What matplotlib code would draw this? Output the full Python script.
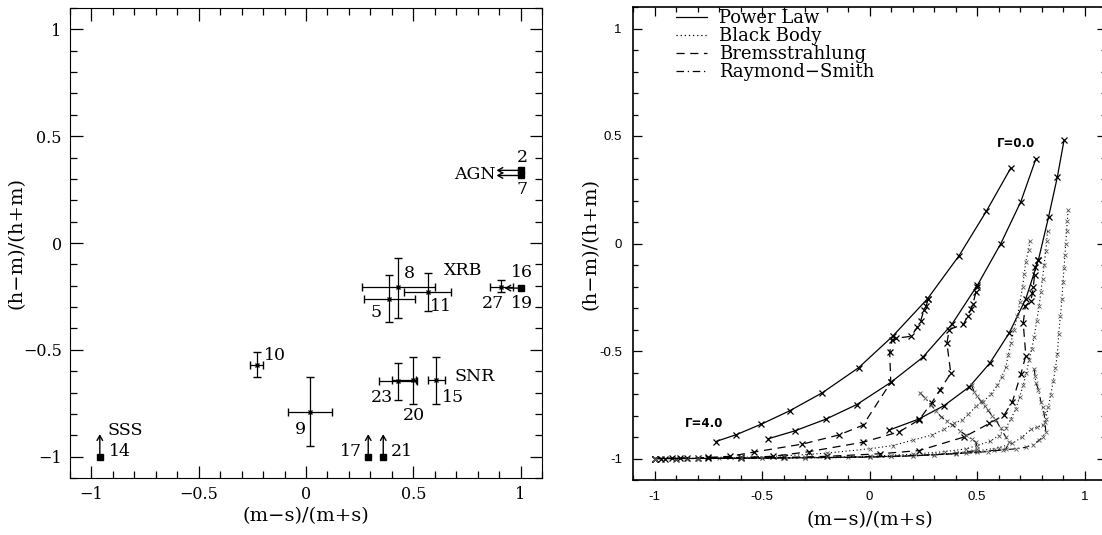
import matplotlib
matplotlib.use('Agg')
import matplotlib.pyplot as plt
from matplotlib.lines import Line2D
from matplotlib.ticker import MultipleLocator

plt.rcParams['font.family'] = ['DejaVu Serif']

# ---------------- left panel: observed sources ----------------
# sources with error bars
eb_x = [0.429, 0.388, 0.569, 0.910, -0.229, 0.019, 0.429, 0.499, 0.608]
eb_xlo = [0.259, 0.270, 0.456, 0.856, -0.260, -0.082, 0.341, 0.399, 0.569]
eb_xhi = [0.600, 0.507, 0.678, 0.964, -0.201, 0.119, 0.518, 0.515, 0.647]
eb_y = [-0.208, -0.260, -0.229, -0.205, -0.570, -0.792, -0.648, -0.641, -0.641]
eb_ylo = [-0.351, -0.371, -0.319, -0.229, -0.629, -0.949, -0.737, -0.752, -0.752]
eb_yhi = [-0.070, -0.149, -0.140, -0.171, -0.510, -0.629, -0.562, -0.533, -0.533]

# limits: square + arrow (2, 7, 16/19, 14, 17, 21)
lim_x = [1.0, 1.0, 1.0, -0.961, 0.290, 0.360]
lim_y = [0.340, 0.316, -0.211, -1.0, -1.0, -1.0]
lim_tip_x = [0.888, 0.888, 0.925, -0.961, 0.290, 0.360]
lim_tip_y = [0.340, 0.316, -0.211, -0.895, -0.895, -0.895]

# labels: text, centre x, centre y
lab_txt = ['2', '7', 'AGN', '8', 'XRB', '16', '27', '19', '5', '11', '10',
           'SNR', '23', '15', '20', '9', 'SSS', '14', '17', '21']
lab_x = [1.007, 1.007, 0.786, 0.484, 0.732, 1.005, 0.872, 1.008, 0.326, 0.631,
         -0.144, 0.786, 0.352, 0.685, 0.502, -0.025, -0.842, -0.865, 0.208, 0.445]
lab_y = [0.40, 0.252, 0.319, -0.141, -0.129, -0.137, -0.284, -0.284, -0.327, -0.295,
         -0.525, -0.625, -0.724, -0.724, -0.806, -0.875, -0.879, -0.978, -0.978, -0.978]

# ---------------- right panel: model tracks ----------------
# power law, three absorbing columns, Gamma = 4.0 ... 0.0
pl1_x = [-0.715, -0.619, -0.505, -0.371, -0.219, -0.051, 0.107, 0.270, 0.417, 0.544, 0.657]
pl1_y = [-0.921, -0.889, -0.841, -0.778, -0.694, -0.578, -0.432, -0.257, -0.056, 0.151, 0.351]
pl2_x = [-0.470, -0.346, -0.203, -0.059, 0.099, 0.247, 0.383, 0.502, 0.611, 0.704, 0.774]
pl2_y = [-0.908, -0.871, -0.817, -0.749, -0.646, -0.530, -0.376, -0.194, 0.0, 0.195, 0.394]
pl3_x = [0.091, 0.228, 0.347, 0.464, 0.560, 0.650, 0.727, 0.786, 0.833, 0.874, 0.905]
pl3_y = [-0.868, -0.817, -0.754, -0.667, -0.556, -0.416, -0.257, -0.075, 0.124, 0.311, 0.481]

# bremsstrahlung
br1_x = [-1.0, -0.97, -0.92, -0.85, -0.75, -0.65, -0.537, -0.312, -0.141, -0.030, 0.099,
         0.094, 0.105, 0.125, 0.192, 0.223, 0.238, 0.253, 0.264, 0.273]
br1_y = [-1.0, -1.0, -0.999, -0.998, -0.995, -0.99, -0.970, -0.933, -0.890, -0.845, -0.646,
         -0.506, -0.450, -0.440, -0.432, -0.390, -0.360, -0.310, -0.290, -0.256]
br2_x = [-1.0, -0.95, -0.88, -0.8, -0.6, -0.45, -0.281, -0.029, 0.138, 0.231, 0.290, 0.329,
         0.378, 0.360, 0.371, 0.437, 0.457, 0.473, 0.481, 0.495, 0.502]
br2_y = [-1.0, -1.0, -0.999, -0.998, -0.995, -0.99, -0.968, -0.924, -0.876, -0.820, -0.740,
         -0.68, -0.603, -0.464, -0.400, -0.376, -0.337, -0.305, -0.281, -0.226, -0.202]
br3_x = [-1.0, -0.9, -0.75, -0.6, -0.4, -0.2, 0.05, 0.231, 0.44, 0.557, 0.626, 0.665, 0.704,
         0.727, 0.715, 0.725, 0.750, 0.758, 0.762, 0.768, 0.772, 0.786]
br3_y = [-1.0, -1.0, -0.999, -0.998, -0.995, -0.99, -0.978, -0.963, -0.90, -0.837, -0.798,
         -0.735, -0.608, -0.521, -0.370, -0.29, -0.267, -0.23, -0.20, -0.146, -0.11, -0.076]

# black body
bb1_x = [0.746, 0.740, 0.727, 0.720, 0.712, 0.700, 0.688, 0.672, 0.657, 0.645, 0.634, 0.615,
         0.595, 0.565, 0.530, 0.495, 0.460, 0.430, 0.394, 0.345, 0.293, 0.20, 0.107, 0.0,
         -0.2, -0.4, -0.6, -0.8, -0.9, -1.0]
bb1_y = [0.011, -0.03, -0.084, -0.14, -0.203, -0.27, -0.338, -0.40, -0.465, -0.52, -0.576, -0.62,
         -0.66, -0.70, -0.735, -0.757, -0.795, -0.82, -0.837, -0.865, -0.89, -0.915, -0.94, -0.955,
         -0.975, -0.988, -0.995, -0.999, -1.0, -1.0]
bb2_x = [0.828, 0.824, 0.820, 0.812, 0.805, 0.797, 0.789, 0.778, 0.766, 0.755, 0.743, 0.730,
         0.715, 0.698, 0.680, 0.658, 0.633, 0.60, 0.56, 0.50, 0.45, 0.35, 0.2, 0.0, -0.3, -0.6,
         -0.85, -1.0]
bb2_y = [0.059, 0.01, -0.036, -0.10, -0.163, -0.225, -0.29, -0.36, -0.433, -0.49, -0.54, -0.60,
         -0.66, -0.715, -0.77, -0.815, -0.86, -0.895, -0.92, -0.94, -0.955, -0.968, -0.98, -0.99,
         -0.995, -0.998, -1.0, -1.0]
bb3_x = [0.924, 0.920, 0.917, 0.913, 0.909, 0.905, 0.900, 0.895, 0.888, 0.880, 0.874, 0.865,
         0.855, 0.843, 0.832, 0.820, 0.805, 0.78, 0.75, 0.71, 0.665, 0.60, 0.50, 0.40, 0.2, 0.0,
         -0.4, -0.8, -1.0]
bb3_y = [0.154, 0.105, 0.059, 0.0, -0.052, -0.115, -0.179, -0.26, -0.338, -0.42, -0.513, -0.58,
         -0.64, -0.703, -0.76, -0.814, -0.845, -0.855, -0.865, -0.90, -0.93, -0.95, -0.965, -0.975,
         -0.988, -0.994, -0.998, -1.0, -1.0]

# Raymond-Smith
rs1_x = [0.234, 0.260, 0.285, 0.310, 0.332, 0.360, 0.386, 0.420, 0.448, 0.475, 0.495, 0.502,
         0.48, 0.40, 0.3, 0.1, -0.1, -0.3, -0.5, -0.7, -0.9, -1.0]
rs1_y = [-0.694, -0.72, -0.749, -0.78, -0.805, -0.825, -0.844, -0.87, -0.892, -0.91, -0.924,
         -0.956, -0.965, -0.975, -0.982, -0.99, -0.994, -0.996, -0.998, -0.999, -1.0, -1.0]
rs2_x = [0.475, 0.487, 0.500, 0.518, 0.535, 0.549, 0.570, 0.588, 0.610, 0.634, 0.650, 0.634,
         0.58, 0.50, 0.40, 0.2, 0.0, -0.3, -0.6, -0.85, -1.0]
rs2_y = [-0.660, -0.690, -0.71, -0.733, -0.755, -0.773, -0.80, -0.821, -0.86, -0.90, -0.924,
         -0.956, -0.962, -0.97, -0.978, -0.988, -0.994, -0.997, -0.999, -1.0, -1.0]
rs3_x = [0.766, 0.770, 0.774, 0.786, 0.797, 0.805, 0.812, 0.816, 0.820, 0.805, 0.789, 0.760,
         0.727, 0.680, 0.619, 0.55, 0.45, 0.3, 0.1, -0.2, -0.5, -0.8, -1.0]
rs3_y = [-0.583, -0.615, -0.648, -0.68, -0.735, -0.76, -0.79, -0.83, -0.876, -0.90, -0.916,
         -0.935, -0.948, -0.955, -0.96, -0.968, -0.975, -0.983, -0.99, -0.995, -0.998, -1.0, -1.0]

legend_labels = ['Power Law', 'Black Body', 'Bremsstrahlung', 'Raymond\u2212Smith']
tick_vals = [-1, -0.5, 0, 0.5, 1]
left_ticklabels = ['\u22121', '\u22120.5', '0', '0.5', '1']
right_ticklabels = ['-1', '-0.5', '0', '0.5', '1']

DASH = (0, (6.5, 4.5))
DOT = (0, (1, 2.3))
DASHDOT = (0, (6, 3, 1, 3))

fig = plt.figure(figsize=(11.02, 5.35), dpi=100)
ax1 = fig.add_axes([70 / 1102, 57 / 535, 472 / 1102, 470 / 535])
ax2 = fig.add_axes([633 / 1102, 55 / 535, 473 / 1102, 473 / 535])

# ---- left ----
for i in range(len(eb_x)):
    ax1.errorbar(eb_x[i], eb_y[i],
                 xerr=[[eb_x[i] - eb_xlo[i]], [eb_xhi[i] - eb_x[i]]],
                 yerr=[[eb_y[i] - eb_ylo[i]], [eb_yhi[i] - eb_y[i]]],
                 fmt='x', ms=3, mew=1, color='k', ecolor='k', elinewidth=0.9,
                 capsize=2.6, capthick=0.9)
for i in range(len(lim_x)):
    ax1.annotate('', xy=(lim_tip_x[i], lim_tip_y[i]), xytext=(lim_x[i], lim_y[i]),
                 arrowprops=dict(arrowstyle='->,head_length=0.35,head_width=0.2',
                                 color='k', lw=1.0, shrinkA=0, shrinkB=0))
ax1.plot(lim_x, lim_y, 's', color='k', ms=4)
for t, x, y in zip(lab_txt, lab_x, lab_y):
    ax1.text(x, y, t, fontsize=12.5, ha='center', va='center')

ax1.set_xlim(-1.1, 1.1)
ax1.set_ylim(-1.1, 1.1)
ax1.set_xticks(tick_vals)
ax1.set_xticklabels(left_ticklabels)
ax1.set_yticks(tick_vals)
ax1.set_yticklabels(left_ticklabels)
ax1.xaxis.set_minor_locator(MultipleLocator(0.1))
ax1.yaxis.set_minor_locator(MultipleLocator(0.1))
ax1.tick_params(which='both', direction='in', top=True, right=True, width=0.9, labelsize=11.5)
ax1.tick_params(which='major', length=9, pad=6)
ax1.tick_params(which='minor', length=5)
ax1.set_xlabel('(m\u2212s)/(m+s)', fontsize=14)
ax1.set_ylabel('(h\u2212m)/(h+m)', fontsize=14)
ax1.xaxis.set_label_coords(0.5, -0.062)
ax1.yaxis.set_label_coords(-0.094, 0.5)

# ---- right ----
mk_big = dict(marker='x', ms=4, mew=0.9, mec='k')
mk_small = dict(marker='x', ms=3.2, mew=0.6, mec='0.35')
for xs, ys in [(pl1_x, pl1_y), (pl2_x, pl2_y), (pl3_x, pl3_y)]:
    ax2.plot(xs, ys, color='k', lw=0.9, ls='-', **mk_big)
for xs, ys in [(br1_x, br1_y), (br2_x, br2_y), (br3_x, br3_y)]:
    ax2.plot(xs, ys, color='k', lw=0.9, ls=DASH, **mk_big)
for xs, ys in [(bb1_x, bb1_y), (bb2_x, bb2_y), (bb3_x, bb3_y)]:
    ax2.plot(xs, ys, color='k', lw=0.8, ls=DOT, **mk_small)
for xs, ys in [(rs1_x, rs1_y), (rs2_x, rs2_y), (rs3_x, rs3_y)]:
    ax2.plot(xs, ys, color='k', lw=0.8, ls=DASHDOT, **mk_small)

ax2.text(pl3_x[-1] - 0.225, pl3_y[-1] - 0.015, '\u0393=0.0', fontsize=8.5, fontweight='bold',
         family='DejaVu Sans', ha='center', va='center')
ax2.text(pl1_x[0] - 0.055, pl1_y[0] + 0.085, '\u0393=4.0', fontsize=8.5, fontweight='bold',
         family='DejaVu Sans', ha='center', va='center')

handles = [Line2D([], [], color='k', lw=0.9, ls='-'),
           Line2D([], [], color='k', lw=0.9, ls=DOT),
           Line2D([], [], color='k', lw=0.9, ls=DASH),
           Line2D([], [], color='k', lw=0.9, ls=DASHDOT)]
ax2.legend(handles, legend_labels, loc='upper left', bbox_to_anchor=(0.09, 0.995),
           frameon=False, fontsize=13, handlelength=1.75, handletextpad=0.65,
           labelspacing=0.0, borderpad=0, borderaxespad=0)

ax2.set_xlim(-1.1, 1.1)
ax2.set_ylim(-1.1, 1.1)
ax2.set_xticks(tick_vals)
ax2.set_xticklabels(right_ticklabels, family='Liberation Sans')
ax2.set_yticks(tick_vals)
ax2.set_yticklabels(right_ticklabels, family='Liberation Sans')
ax2.xaxis.set_minor_locator(MultipleLocator(0.1))
ax2.yaxis.set_minor_locator(MultipleLocator(0.1))
ax2.tick_params(which='both', direction='in', top=True, right=True, width=0.9, labelsize=9.5)
ax2.tick_params(which='major', length=6.5, pad=8)
ax2.tick_params(which='minor', length=3.6)
for s in ax2.spines.values():
    s.set_linewidth(1.2)
ax2.set_xlabel('(m\u2212s)/(m+s)', fontsize=14)
ax2.set_ylabel('(h\u2212m)/(h+m)', fontsize=14)
ax2.xaxis.set_label_coords(0.5, -0.066)
ax2.yaxis.set_label_coords(-0.07, 0.5)

fig.savefig('out.png', dpi=100)
